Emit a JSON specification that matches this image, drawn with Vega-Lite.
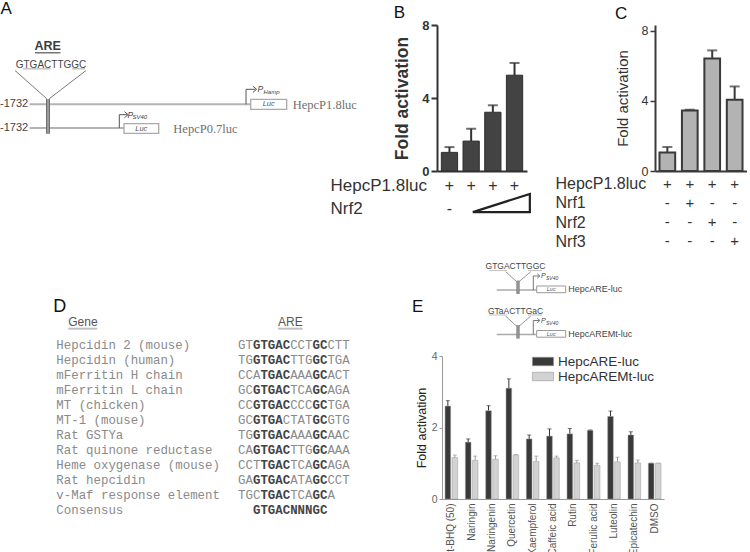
{
  "$schema": "https://vega.github.io/schema/vega-lite/v6.json",
  "background": "white",
  "padding": {"left": 0, "top": 0, "right": 0, "bottom": 0},
  "config": {
    "view": {"stroke": null},
    "font": "Liberation Sans",
    "axis": {"grid": false},
    "title": {"anchor": "start", "frame": "bounds", "fontSize": 17, "fontWeight": "normal", "color": "#111"}
  },
  "resolve": {"scale": {"color": "independent"}, "legend": {"color": "independent"}},
  "datasets": {
    "genes": [
      {"order": 0, "gene": "Hepcidin 2 (mouse)"},
      {"order": 1, "gene": "Hepcidin (human)"},
      {"order": 2, "gene": "mFerritin H chain"},
      {"order": 3, "gene": "mFerritin L chain"},
      {"order": 4, "gene": "MT (chicken)"},
      {"order": 5, "gene": "MT-1 (mouse)"},
      {"order": 6, "gene": "Rat GSTYa"},
      {"order": 7, "gene": "Rat quinone reductase"},
      {"order": 8, "gene": "Heme oxygenase (mouse)"},
      {"order": 9, "gene": "Rat hepcidin"},
      {"order": 10, "gene": "v-Maf response element"},
      {"order": 11, "gene": "Consensus"}
    ],
    "segments": [
      {"order": 0, "pos": 0, "bases": "GT", "conserved": false},
      {"order": 0, "pos": 2, "bases": "GTGAC", "conserved": true},
      {"order": 0, "pos": 7, "bases": "CCT", "conserved": false},
      {"order": 0, "pos": 10, "bases": "GC", "conserved": true},
      {"order": 0, "pos": 12, "bases": "CTT", "conserved": false},
      {"order": 1, "pos": 0, "bases": "TG", "conserved": false},
      {"order": 1, "pos": 2, "bases": "GTGAC", "conserved": true},
      {"order": 1, "pos": 7, "bases": "TTG", "conserved": false},
      {"order": 1, "pos": 10, "bases": "GC", "conserved": true},
      {"order": 1, "pos": 12, "bases": "TGA", "conserved": false},
      {"order": 2, "pos": 0, "bases": "CCA", "conserved": false},
      {"order": 2, "pos": 3, "bases": "TGAC", "conserved": true},
      {"order": 2, "pos": 7, "bases": "AAA", "conserved": false},
      {"order": 2, "pos": 10, "bases": "GC", "conserved": true},
      {"order": 2, "pos": 12, "bases": "ACT", "conserved": false},
      {"order": 3, "pos": 0, "bases": "GC", "conserved": false},
      {"order": 3, "pos": 2, "bases": "GTGAC", "conserved": true},
      {"order": 3, "pos": 7, "bases": "TCA", "conserved": false},
      {"order": 3, "pos": 10, "bases": "GC", "conserved": true},
      {"order": 3, "pos": 12, "bases": "AGA", "conserved": false},
      {"order": 4, "pos": 0, "bases": "CC", "conserved": false},
      {"order": 4, "pos": 2, "bases": "GTGAC", "conserved": true},
      {"order": 4, "pos": 7, "bases": "CCC", "conserved": false},
      {"order": 4, "pos": 10, "bases": "GC", "conserved": true},
      {"order": 4, "pos": 12, "bases": "TGA", "conserved": false},
      {"order": 5, "pos": 0, "bases": "GC", "conserved": false},
      {"order": 5, "pos": 2, "bases": "GTGA", "conserved": true},
      {"order": 5, "pos": 6, "bases": "CTAT", "conserved": false},
      {"order": 5, "pos": 10, "bases": "GC", "conserved": true},
      {"order": 5, "pos": 12, "bases": "GTG", "conserved": false},
      {"order": 6, "pos": 0, "bases": "TG", "conserved": false},
      {"order": 6, "pos": 2, "bases": "GTGAC", "conserved": true},
      {"order": 6, "pos": 7, "bases": "AAA", "conserved": false},
      {"order": 6, "pos": 10, "bases": "GC", "conserved": true},
      {"order": 6, "pos": 12, "bases": "AAC", "conserved": false},
      {"order": 7, "pos": 0, "bases": "CA", "conserved": false},
      {"order": 7, "pos": 2, "bases": "GTGAC", "conserved": true},
      {"order": 7, "pos": 7, "bases": "TTG", "conserved": false},
      {"order": 7, "pos": 10, "bases": "GC", "conserved": true},
      {"order": 7, "pos": 12, "bases": "AAA", "conserved": false},
      {"order": 8, "pos": 0, "bases": "CCT", "conserved": false},
      {"order": 8, "pos": 3, "bases": "TGAC", "conserved": true},
      {"order": 8, "pos": 7, "bases": "TCA", "conserved": false},
      {"order": 8, "pos": 10, "bases": "GC", "conserved": true},
      {"order": 8, "pos": 12, "bases": "AGA", "conserved": false},
      {"order": 9, "pos": 0, "bases": "GA", "conserved": false},
      {"order": 9, "pos": 2, "bases": "GTGAC", "conserved": true},
      {"order": 9, "pos": 7, "bases": "ATA", "conserved": false},
      {"order": 9, "pos": 10, "bases": "GC", "conserved": true},
      {"order": 9, "pos": 12, "bases": "CCT", "conserved": false},
      {"order": 10, "pos": 0, "bases": "TGC", "conserved": false},
      {"order": 10, "pos": 3, "bases": "TGAC", "conserved": true},
      {"order": 10, "pos": 7, "bases": "TCA", "conserved": false},
      {"order": 10, "pos": 10, "bases": "GC", "conserved": true},
      {"order": 10, "pos": 12, "bases": "A", "conserved": false},
      {"order": 11, "pos": 2, "bases": "GTGACNNNGC", "conserved": true}
    ]
  },
  "vconcat": [
    {
      "hconcat": [
        {
          "hconcat": [
            {
              "width": 300,
              "height": 110,
              "data": {"values": [
                {"kind": "line", "part": "connector", "x": 15, "y": 68.5, "x2": 46.7, "y2": 96.7},
                {"kind": "line", "part": "connector", "x": 86, "y": 68.5, "x2": 49.3, "y2": 96.7},
                {"kind": "line", "part": "backbone", "x": 29.5, "y": 102.3, "x2": 250.7, "y2": 102.3},
                {"kind": "line", "part": "backbone", "x": 29.5, "y": 126, "x2": 124, "y2": 126},
                {"kind": "line", "part": "promoter", "x": 246, "y": 102.3, "x2": 246, "y2": 87.3},
                {"kind": "line", "part": "promoter", "x": 246, "y": 87.3, "x2": 255.5, "y2": 87.3},
                {"kind": "line", "part": "promoter", "x": 119.3, "y": 126, "x2": 119.3, "y2": 112.7},
                {"kind": "line", "part": "promoter", "x": 119.3, "y": 112.7, "x2": 127, "y2": 112.7},
                {"kind": "line", "part": "motif", "x": 23, "y": 66.8, "x2": 50.5, "y2": 66.8},
                {"kind": "line", "part": "motif", "x": 72, "y": 66.8, "x2": 85, "y2": 66.8},
                {"kind": "line", "part": "heading", "x": 35, "y": 50.8, "x2": 60.5, "y2": 50.8},
                {"kind": "line", "part": "site", "x": 48, "y": 97, "x2": 48, "y2": 131.7},
                {"kind": "box", "x": 250.7, "x2": 286.7, "y": 97.3, "y2": 107.3},
                {"kind": "box", "x": 124, "x2": 158.7, "y": 121.7, "y2": 131.3},
                {"kind": "arrow", "x": 256, "y": 87.3},
                {"kind": "arrow", "x": 127.5, "y": 112.7},
                {"kind": "panel", "label": "A", "x": 0.5, "y": 7},
                {"kind": "heading", "label": "ARE", "x": 47.7, "y": 44},
                {"kind": "motif", "label": "GTGACTTGGC", "x": 51, "y": 62.5},
                {"kind": "coord", "label": "-1732", "x": 0, "y": 102.3},
                {"kind": "coord", "label": "-1732", "x": 0, "y": 126},
                {"kind": "pname", "label": "P", "x": 257.5, "y": 87},
                {"kind": "pname", "label": "P", "x": 127.5, "y": 112.5},
                {"kind": "psub", "label": "Hamp", "x": 263.5, "y": 90},
                {"kind": "psub", "label": "SV40", "x": 132.5, "y": 114.8},
                {"kind": "luc", "label": "Luc", "x": 268.7, "y": 102.3},
                {"kind": "luc", "label": "Luc", "x": 141.3, "y": 126.5},
                {"kind": "construct", "label": "HepcP1.8luc", "x": 292.7, "y": 102.5},
                {"kind": "construct", "label": "HepcP0.7luc", "x": 173.3, "y": 127}
              ]},
              "encoding": {
                "x": {"field": "x", "type": "quantitative", "scale": {"domain": [0, 300], "nice": false, "zero": false}, "axis": null},
                "y": {"field": "y", "type": "quantitative", "scale": {"domain": [23, 133], "reverse": true, "nice": false, "zero": false}, "axis": null}
              },
              "layer": [
                {"transform": [{"filter": "datum.part === 'connector'"}], "mark": {"type": "rule", "color": "#7a7a7a", "strokeWidth": 1}, "encoding": {"x2": {"field": "x2"}, "y2": {"field": "y2"}}},
                {"transform": [{"filter": "datum.part === 'backbone'"}], "mark": {"type": "rule", "color": "#b4b4b4", "strokeWidth": 2}, "encoding": {"x2": {"field": "x2"}, "y2": {"field": "y2"}}},
                {"transform": [{"filter": "datum.part === 'promoter'"}], "mark": {"type": "rule", "color": "#555", "strokeWidth": 1}, "encoding": {"x2": {"field": "x2"}, "y2": {"field": "y2"}}},
                {"transform": [{"filter": "datum.part === 'motif'"}], "mark": {"type": "rule", "color": "#c4c4c4", "strokeWidth": 1.5}, "encoding": {"x2": {"field": "x2"}, "y2": {"field": "y2"}}},
                {"transform": [{"filter": "datum.part === 'heading'"}], "mark": {"type": "rule", "color": "#555", "strokeWidth": 1.2}, "encoding": {"x2": {"field": "x2"}, "y2": {"field": "y2"}}},
                {"transform": [{"filter": "datum.part === 'site'"}], "mark": {"type": "rule", "color": "#707070", "strokeWidth": 4}, "encoding": {"x2": {"field": "x2"}, "y2": {"field": "y2"}}},
                {"transform": [{"filter": "datum.part === 'site'"}], "mark": {"type": "rule", "color": "#9a9a9a", "strokeWidth": 2}, "encoding": {"x2": {"field": "x2"}, "y2": {"field": "y2"}}},
                {"transform": [{"filter": "datum.kind === 'box'"}], "mark": {"type": "rect", "fill": "white", "stroke": "#aaa", "strokeWidth": 1.3}, "encoding": {"x2": {"field": "x2"}, "y2": {"field": "y2"}}},
                {"transform": [{"filter": "datum.kind === 'arrow'"}], "mark": {"type": "point", "shape": "M-1,-1L0.2,0L-1,1", "filled": false, "color": "#555", "strokeWidth": 1, "size": 36, "opacity": 1}},
                {"transform": [{"filter": "datum.kind === 'panel'"}], "mark": {"type": "text", "align": "left", "baseline": "middle", "fontSize": 17, "color": "#111"}, "encoding": {"text": {"field": "label"}}},
                {"transform": [{"filter": "datum.kind === 'heading'"}], "mark": {"type": "text", "align": "center", "baseline": "middle", "fontSize": 12.5, "fontWeight": "bold", "color": "#3c3c3c"}, "encoding": {"text": {"field": "label"}}},
                {"transform": [{"filter": "datum.kind === 'motif'"}], "mark": {"type": "text", "align": "center", "baseline": "middle", "fontSize": 10, "color": "#444"}, "encoding": {"text": {"field": "label"}}},
                {"transform": [{"filter": "datum.kind === 'coord'"}], "mark": {"type": "text", "align": "left", "baseline": "middle", "fontSize": 11, "color": "#444"}, "encoding": {"text": {"field": "label"}}},
                {"transform": [{"filter": "datum.kind === 'pname'"}], "mark": {"type": "text", "align": "left", "baseline": "middle", "fontSize": 8.5, "fontStyle": "italic", "color": "#444"}, "encoding": {"text": {"field": "label"}}},
                {"transform": [{"filter": "datum.kind === 'psub'"}], "mark": {"type": "text", "align": "left", "baseline": "middle", "fontSize": 6, "fontStyle": "italic", "color": "#444"}, "encoding": {"text": {"field": "label"}}},
                {"transform": [{"filter": "datum.kind === 'luc'"}], "mark": {"type": "text", "align": "center", "baseline": "middle", "fontSize": 7.5, "fontStyle": "italic", "color": "#555"}, "encoding": {"text": {"field": "label"}}},
                {"transform": [{"filter": "datum.kind === 'construct'"}], "mark": {"type": "text", "align": "left", "baseline": "middle", "font": "Liberation Serif", "fontSize": 12.5, "color": "#707070"}, "encoding": {"text": {"field": "label"}}}
              ]
            },
            {
              "bounds": "flush",
              "vconcat": [
                {
                  "title": {"text": "B", "offset": -3},
                  "width": 90,
                  "height": 146,
                  "data": {"values": [
                    {"cond": "1", "fold": 1.02, "err": 1.31},
                    {"cond": "2", "fold": 1.64, "err": 2.32},
                    {"cond": "3", "fold": 3.22, "err": 3.6},
                    {"cond": "4", "fold": 5.25, "err": 5.92}
                  ]},
                  "encoding": {
                    "x": {"field": "cond", "type": "nominal", "scale": {"type": "band", "paddingInner": 0.25, "paddingOuter": 0.2}, "axis": {"labels": false, "ticks": false, "title": null, "domainColor": "#333", "domainWidth": 2}}
                  },
                  "layer": [
                    {"mark": {"type": "rule", "color": "#333", "strokeWidth": 2}, "encoding": {"y": {"field": "fold", "type": "quantitative", "title": "Fold activation"}, "y2": {"field": "err"}}},
                    {"mark": {"type": "tick", "color": "#333", "thickness": 2, "size": 10}, "encoding": {"y": {"field": "err", "type": "quantitative", "title": "Fold activation"}}},
                    {"mark": {"type": "bar", "fill": "#434343", "stroke": "#2e2e2e", "strokeWidth": 1}, "encoding": {"y": {"field": "fold", "type": "quantitative", "title": "Fold activation", "scale": {"domain": [0, 8], "nice": false}, "axis": {"values": [0, 2, 4, 6, 8], "domainColor": "#333", "domainWidth": 2, "tickColor": "#333", "tickWidth": 2, "tickSize": 6, "labelFontSize": 13, "labelFontWeight": "bold", "labelColor": "#333", "labelPadding": 2, "titleFontSize": 17.5, "titleFontWeight": "bold", "titleColor": "#333", "titlePadding": 10}}}}
                  ]
                },
                {
                  "width": 90,
                  "height": 46,
                  "data": {"values": [
                    {"cond": "1", "row": 0, "sign": "+"},
                    {"cond": "2", "row": 0, "sign": "+"},
                    {"cond": "3", "row": 0, "sign": "+"},
                    {"cond": "4", "row": 0, "sign": "+"},
                    {"cond": "1", "row": 1, "sign": "-"}
                  ]},
                  "encoding": {
                    "x": {"field": "cond", "type": "nominal", "scale": {"type": "band", "domain": ["1", "2", "3", "4"], "paddingInner": 0.25, "paddingOuter": 0.2}, "axis": null},
                    "y": {"field": "row", "type": "quantitative", "scale": {"domain": [-0.652, 1.348], "reverse": true, "nice": false, "zero": false}, "axis": {"title": null, "domain": false, "ticks": false, "tickSize": 0, "values": [0, 1], "labelExpr": "datum.value === 0 ? 'HepcP1.8luc' : 'Nrf2'", "labelAlign": "left", "labelBaseline": "middle", "labelPadding": 107, "labelFontSize": 17, "labelColor": "#333"}}
                  },
                  "layer": [
                    {"mark": {"type": "text", "fontSize": 16, "color": "#333"}, "encoding": {"text": {"field": "sign"}}},
                    {"data": {"values": [{"cond": "3", "row": 0.74}]}, "mark": {"type": "point", "shape": "M-1,0.32L1,-0.32L1,0.32Z", "size": 3249, "filled": false, "color": "#222", "strokeWidth": 2.2, "opacity": 1, "xOffset": 8.5}}
                  ]
                }
              ],
              "spacing": 0
            }
          ],
          "spacing": -27
        },
        {
          "bounds": "flush",
          "vconcat": [
            {
              "title": {"text": "C", "offset": 2},
              "width": 92,
              "height": 146,
              "data": {"values": [
                {"cond": "1", "fold": 1.06, "err": 1.37},
                {"cond": "2", "fold": 3.46, "err": 3.5},
                {"cond": "3", "fold": 6.43, "err": 6.89},
                {"cond": "4", "fold": 4.07, "err": 4.83}
              ]},
              "encoding": {
                "x": {"field": "cond", "type": "nominal", "scale": {"type": "band", "paddingInner": 0.3, "paddingOuter": 0.2}, "axis": {"labels": false, "ticks": false, "title": null, "domainColor": "#3a3a3a", "domainWidth": 2}}
              },
              "layer": [
                {"mark": {"type": "rule", "color": "#3a3a3a", "strokeWidth": 2}, "encoding": {"y": {"field": "fold", "type": "quantitative", "title": "Fold activation"}, "y2": {"field": "err"}}},
                {"mark": {"type": "tick", "color": "#3a3a3a", "thickness": 2, "size": 10}, "encoding": {"y": {"field": "err", "type": "quantitative", "title": "Fold activation"}}},
                {"mark": {"type": "bar", "fill": "#b3b3b3", "stroke": "#3a3a3a", "strokeWidth": 2}, "encoding": {"y": {"field": "fold", "type": "quantitative", "title": "Fold activation", "scale": {"domain": [0, 8.34], "nice": false}, "axis": {"values": [0, 2, 4, 6, 8], "domainColor": "#3a3a3a", "domainWidth": 2, "tickColor": "#3a3a3a", "tickWidth": 1.5, "tickSize": 5, "labelFontSize": 12.5, "labelColor": "#333", "labelPadding": 2, "titleFontSize": 15, "titleFontWeight": "normal", "titleColor": "#333", "titlePadding": 11}}}}
              ]
            },
            {
              "width": 92,
              "height": 77,
              "data": {"values": [
                {"cond": "1", "row": 0, "sign": "+"},
                {"cond": "2", "row": 0, "sign": "+"},
                {"cond": "3", "row": 0, "sign": "+"},
                {"cond": "4", "row": 0, "sign": "+"},
                {"cond": "1", "row": 1, "sign": "-"},
                {"cond": "2", "row": 1, "sign": "+"},
                {"cond": "3", "row": 1, "sign": "-"},
                {"cond": "4", "row": 1, "sign": "-"},
                {"cond": "1", "row": 2, "sign": "-"},
                {"cond": "2", "row": 2, "sign": "-"},
                {"cond": "3", "row": 2, "sign": "+"},
                {"cond": "4", "row": 2, "sign": "-"},
                {"cond": "1", "row": 3, "sign": "-"},
                {"cond": "2", "row": 3, "sign": "-"},
                {"cond": "3", "row": 3, "sign": "-"},
                {"cond": "4", "row": 3, "sign": "+"}
              ]},
              "encoding": {
                "x": {"field": "cond", "type": "nominal", "scale": {"type": "band", "domain": ["1", "2", "3", "4"], "paddingInner": 0.3, "paddingOuter": 0.2}, "axis": null},
                "y": {"field": "row", "type": "quantitative", "scale": {"domain": [-0.648, 3.342], "reverse": true, "nice": false, "zero": false}, "axis": {"title": null, "domain": false, "ticks": false, "tickSize": 0, "values": [0, 1, 2, 3], "labelExpr": "['HepcP1.8luc', 'Nrf1', 'Nrf2', 'Nrf3'][datum.value]", "labelAlign": "left", "labelBaseline": "middle", "labelPadding": 100, "labelFontSize": 16, "labelColor": "#333"}},
                "text": {"field": "sign"}
              },
              "mark": {"type": "text", "fontSize": 15, "color": "#333"}
            }
          ],
          "spacing": 0
        }
      ],
      "spacing": 20
    },
    {
      "resolve": {"scale": {"color": "independent"}, "legend": {"color": "independent"}},
      "hconcat": [
        {
          "width": 298,
          "height": 262,
          "layer": [
            {
              "data": {"values": [{"t": "D", "col": -24.83, "line": -2.5}]},
              "mark": {"type": "text", "align": "left", "baseline": "middle", "fontSize": 18, "color": "#111"},
              "encoding": {
                "x": {"field": "col", "type": "quantitative", "scale": {"domain": [-32, 8.05], "nice": false, "zero": false}, "axis": null},
                "y": {"field": "line", "type": "quantitative", "scale": {"domain": [-6, 11.5], "reverse": true, "nice": false, "zero": false}, "axis": null},
                "text": {"field": "t"}
              }
            },
            {
              "data": {"values": [{"t": "Gene", "col": -22.83, "line": -1.5}, {"t": "ARE", "col": 5.37, "line": -1.5}]},
              "mark": {"type": "text", "align": "left", "baseline": "middle", "fontSize": 12, "color": "#555"},
              "encoding": {
                "x": {"field": "col", "type": "quantitative", "scale": {"domain": [-32, 8.05], "nice": false, "zero": false}, "axis": null},
                "y": {"field": "line", "type": "quantitative", "scale": {"domain": [-6, 11.5], "reverse": true, "nice": false, "zero": false}, "axis": null},
                "text": {"field": "t"}
              }
            },
            {
              "data": {"values": [{"col": -22.83, "col2": -18.93, "line": -1.08}, {"col": 5.37, "col2": 8.67, "line": -1.08}]},
              "mark": {"type": "rule", "color": "#c0c0c0", "strokeWidth": 2},
              "encoding": {
                "x": {"field": "col", "type": "quantitative", "scale": {"domain": [-32, 8.05], "nice": false, "zero": false}, "axis": null},
                "x2": {"field": "col2"},
                "y": {"field": "line", "type": "quantitative", "scale": {"domain": [-6, 11.5], "reverse": true, "nice": false, "zero": false}, "axis": null}
              }
            },
            {
              "data": {"name": "genes"},
              "mark": {"type": "text", "align": "left", "baseline": "middle", "font": "Liberation Mono", "fontSize": 12.4, "color": "#8a8a8a"},
              "encoding": {
                "x": {"datum": -24.43, "type": "quantitative", "scale": {"domain": [-32, 8.05], "nice": false, "zero": false}, "axis": null},
                "y": {"field": "order", "type": "quantitative", "scale": {"domain": [-6, 11.5], "reverse": true, "nice": false, "zero": false}, "axis": null},
                "text": {"field": "gene"}
              }
            },
            {
              "data": {"name": "segments"},
              "transform": [{"filter": "!datum.conserved"}],
              "mark": {"type": "text", "align": "left", "baseline": "middle", "font": "Liberation Mono", "fontSize": 12.4, "color": "#8a8a8a"},
              "encoding": {
                "x": {"field": "pos", "type": "quantitative", "scale": {"domain": [-32, 8.05], "nice": false, "zero": false}, "axis": null},
                "y": {"field": "order", "type": "quantitative", "scale": {"domain": [-6, 11.5], "reverse": true, "nice": false, "zero": false}, "axis": null},
                "text": {"field": "bases"}
              }
            },
            {
              "data": {"name": "segments"},
              "transform": [{"filter": "datum.conserved"}],
              "mark": {"type": "text", "align": "left", "baseline": "middle", "font": "Liberation Mono", "fontSize": 12.4, "fontWeight": "bold", "color": "#444"},
              "encoding": {
                "x": {"field": "pos", "type": "quantitative", "scale": {"domain": [-32, 8.05], "nice": false, "zero": false}, "axis": null},
                "y": {"field": "order", "type": "quantitative", "scale": {"domain": [-6, 11.5], "reverse": true, "nice": false, "zero": false}, "axis": null},
                "text": {"field": "bases"}
              }
            }
          ]
        },
        {
          "resolve": {"scale": {"color": "independent"}, "legend": {"color": "independent"}},
          "vconcat": [
            {
              "width": 222,
              "height": 85,
              "data": {"values": [
                {"kind": "line", "part": "connector", "x": 63.7, "y": 16.7, "x2": 74.7, "y2": 26.7},
                {"kind": "line", "part": "connector", "x": 88.7, "y": 16.7, "x2": 77, "y2": 26.7},
                {"kind": "line", "part": "connector", "x": 63.7, "y": 61.2, "x2": 74.7, "y2": 71.2},
                {"kind": "line", "part": "connector", "x": 88.7, "y": 61.2, "x2": 77, "y2": 71.2},
                {"kind": "line", "part": "backbone", "x": 54.7, "y": 35, "x2": 94.7, "y2": 35},
                {"kind": "line", "part": "backbone", "x": 54.7, "y": 79.5, "x2": 94.7, "y2": 79.5},
                {"kind": "line", "part": "promoter", "x": 91.3, "y": 35, "x2": 91.3, "y2": 21},
                {"kind": "line", "part": "promoter", "x": 91.3, "y": 21, "x2": 97, "y2": 21},
                {"kind": "line", "part": "promoter", "x": 91.3, "y": 79.5, "x2": 91.3, "y2": 65.5},
                {"kind": "line", "part": "promoter", "x": 91.3, "y": 65.5, "x2": 97, "y2": 65.5},
                {"kind": "line", "part": "motif", "x": 47, "y": 15.5, "x2": 65, "y2": 15.5},
                {"kind": "line", "part": "motif", "x": 86, "y": 15.5, "x2": 100, "y2": 15.5},
                {"kind": "line", "part": "motif", "x": 47, "y": 60, "x2": 65, "y2": 60},
                {"kind": "line", "part": "motif", "x": 86, "y": 60, "x2": 100, "y2": 60},
                {"kind": "line", "part": "site", "x": 76, "y": 25.7, "x2": 76, "y2": 39},
                {"kind": "line", "part": "site", "x": 76, "y": 70.2, "x2": 76, "y2": 83.5},
                {"kind": "box", "x": 94.7, "x2": 123.7, "y": 31, "y2": 37.7},
                {"kind": "box", "x": 94.7, "x2": 123.7, "y": 75.5, "y2": 82.2},
                {"kind": "arrow", "x": 97.5, "y": 21},
                {"kind": "arrow", "x": 97.5, "y": 65.5},
                {"kind": "panel", "label": "E", "x": -30, "y": 52},
                {"kind": "motif", "label": "GTGACTTGGC", "x": 73.5, "y": 11},
                {"kind": "motif", "label": "GTaACTTGaC", "x": 73.5, "y": 55.5},
                {"kind": "pname", "label": "P", "x": 99, "y": 21},
                {"kind": "pname", "label": "P", "x": 99, "y": 65.5},
                {"kind": "psub", "label": "SV40", "x": 104, "y": 23},
                {"kind": "psub", "label": "SV40", "x": 104, "y": 67.5},
                {"kind": "luc", "label": "Luc", "x": 109.2, "y": 34.4},
                {"kind": "luc", "label": "Luc", "x": 109.2, "y": 78.9},
                {"kind": "construct", "label": "HepcARE-luc", "x": 126.3, "y": 34},
                {"kind": "construct", "label": "HepcAREMt-luc", "x": 126.3, "y": 78.5}
              ]},
              "encoding": {
                "x": {"field": "x", "type": "quantitative", "scale": {"domain": [0, 222], "nice": false, "zero": false}, "axis": null},
                "y": {"field": "y", "type": "quantitative", "scale": {"domain": [0, 85], "reverse": true, "nice": false, "zero": false}, "axis": null}
              },
              "layer": [
                {"transform": [{"filter": "datum.part === 'connector'"}], "mark": {"type": "rule", "color": "#7a7a7a", "strokeWidth": 0.8}, "encoding": {"x2": {"field": "x2"}, "y2": {"field": "y2"}}},
                {"transform": [{"filter": "datum.part === 'backbone'"}], "mark": {"type": "rule", "color": "#aaa", "strokeWidth": 1.5}, "encoding": {"x2": {"field": "x2"}, "y2": {"field": "y2"}}},
                {"transform": [{"filter": "datum.part === 'promoter'"}], "mark": {"type": "rule", "color": "#555", "strokeWidth": 0.8}, "encoding": {"x2": {"field": "x2"}, "y2": {"field": "y2"}}},
                {"transform": [{"filter": "datum.part === 'motif'"}], "mark": {"type": "rule", "color": "#c8c8c8", "strokeWidth": 1.2}, "encoding": {"x2": {"field": "x2"}, "y2": {"field": "y2"}}},
                {"transform": [{"filter": "datum.part === 'site'"}], "mark": {"type": "rule", "color": "#777", "strokeWidth": 3.2}, "encoding": {"x2": {"field": "x2"}, "y2": {"field": "y2"}}},
                {"transform": [{"filter": "datum.part === 'site'"}], "mark": {"type": "rule", "color": "#a0a0a0", "strokeWidth": 1.4}, "encoding": {"x2": {"field": "x2"}, "y2": {"field": "y2"}}},
                {"transform": [{"filter": "datum.kind === 'box'"}], "mark": {"type": "rect", "fill": "white", "stroke": "#999", "strokeWidth": 1}, "encoding": {"x2": {"field": "x2"}, "y2": {"field": "y2"}}},
                {"transform": [{"filter": "datum.kind === 'arrow'"}], "mark": {"type": "point", "shape": "M-1,-1L0.2,0L-1,1", "filled": false, "color": "#555", "strokeWidth": 0.8, "size": 20, "opacity": 1}},
                {"transform": [{"filter": "datum.kind === 'panel'"}], "mark": {"type": "text", "align": "left", "baseline": "middle", "fontSize": 17, "color": "#111"}, "encoding": {"text": {"field": "label"}}},
                {"transform": [{"filter": "datum.kind === 'motif'"}], "mark": {"type": "text", "align": "center", "baseline": "middle", "fontSize": 8.5, "color": "#444"}, "encoding": {"text": {"field": "label"}}},
                {"transform": [{"filter": "datum.kind === 'pname'"}], "mark": {"type": "text", "align": "left", "baseline": "middle", "fontSize": 7, "fontStyle": "italic", "color": "#444"}, "encoding": {"text": {"field": "label"}}},
                {"transform": [{"filter": "datum.kind === 'psub'"}], "mark": {"type": "text", "align": "left", "baseline": "middle", "fontSize": 5, "fontStyle": "italic", "color": "#444"}, "encoding": {"text": {"field": "label"}}},
                {"transform": [{"filter": "datum.kind === 'luc'"}], "mark": {"type": "text", "align": "center", "baseline": "middle", "fontSize": 5.5, "fontStyle": "italic", "color": "#555"}, "encoding": {"text": {"field": "label"}}},
                {"transform": [{"filter": "datum.kind === 'construct'"}], "mark": {"type": "text", "align": "left", "baseline": "middle", "fontSize": 9, "color": "#444"}, "encoding": {"text": {"field": "label"}}}
              ]
            },
            {
              "width": 222,
              "height": 143,
              "data": {"values": [
                {"compound": "t-BHQ (50)", "construct": "HepcARE-luc", "fold": 2.6, "err": 2.75},
                {"compound": "t-BHQ (50)", "construct": "HepcAREMt-luc", "fold": 1.16, "err": 1.23},
                {"compound": "Naringin", "construct": "HepcARE-luc", "fold": 1.59, "err": 1.68},
                {"compound": "Naringin", "construct": "HepcAREMt-luc", "fold": 1.08, "err": 1.2},
                {"compound": "Naringenin", "construct": "HepcARE-luc", "fold": 2.47, "err": 2.61},
                {"compound": "Naringenin", "construct": "HepcAREMt-luc", "fold": 1.11, "err": 1.21},
                {"compound": "Quercetin", "construct": "HepcARE-luc", "fold": 3.1, "err": 3.36},
                {"compound": "Quercetin", "construct": "HepcAREMt-luc", "fold": 1.23, "err": 1.24},
                {"compound": "Kaempferol", "construct": "HepcARE-luc", "fold": 1.68, "err": 1.79},
                {"compound": "Kaempferol", "construct": "HepcAREMt-luc", "fold": 1.05, "err": 1.2},
                {"compound": "Caffeic acid", "construct": "HepcARE-luc", "fold": 1.76, "err": 1.96},
                {"compound": "Caffeic acid", "construct": "HepcAREMt-luc", "fold": 1.15, "err": 1.2},
                {"compound": "Rutin", "construct": "HepcARE-luc", "fold": 1.82, "err": 1.97},
                {"compound": "Rutin", "construct": "HepcAREMt-luc", "fold": 1.01, "err": 1.08},
                {"compound": "Ferulic acid", "construct": "HepcARE-luc", "fold": 1.92, "err": 1.93},
                {"compound": "Ferulic acid", "construct": "HepcAREMt-luc", "fold": 0.94, "err": 1.0},
                {"compound": "Luteolin", "construct": "HepcARE-luc", "fold": 2.31, "err": 2.46},
                {"compound": "Luteolin", "construct": "HepcAREMt-luc", "fold": 1.04, "err": 1.17},
                {"compound": "Epicatechin", "construct": "HepcARE-luc", "fold": 1.79, "err": 1.88},
                {"compound": "Epicatechin", "construct": "HepcAREMt-luc", "fold": 1.01, "err": 1.09},
                {"compound": "DMSO", "construct": "HepcARE-luc", "fold": 1.0, "err": 1.0},
                {"compound": "DMSO", "construct": "HepcAREMt-luc", "fold": 1.0, "err": 1.0}
              ]},
              "encoding": {
                "x": {"field": "compound", "type": "nominal", "sort": ["t-BHQ (50)", "Naringin", "Naringenin", "Quercetin", "Kaempferol", "Caffeic acid", "Rutin", "Ferulic acid", "Luteolin", "Epicatechin", "DMSO"], "scale": {"paddingInner": 0.38, "paddingOuter": 0.15}, "axis": {"title": null, "labelAngle": -90, "labelFontSize": 10, "labelColor": "#555", "ticks": false, "domainColor": "#999", "labelPadding": 4}},
                "xOffset": {"field": "construct", "type": "nominal", "sort": ["HepcARE-luc", "HepcAREMt-luc"], "scale": {"paddingInner": 0.2}}
              },
              "layer": [
                {"transform": [{"filter": "datum.construct === 'HepcARE-luc'"}], "mark": {"type": "rule", "strokeWidth": 1, "color": "#333"}, "encoding": {"y": {"field": "fold", "type": "quantitative", "title": "Fold activation"}, "y2": {"field": "err"}}},
                {"transform": [{"filter": "datum.construct === 'HepcARE-luc'"}], "mark": {"type": "tick", "thickness": 1, "size": 4, "color": "#333"}, "encoding": {"y": {"field": "err", "type": "quantitative", "title": "Fold activation"}}},
                {"transform": [{"filter": "datum.construct === 'HepcAREMt-luc'"}], "mark": {"type": "rule", "strokeWidth": 1, "color": "#999"}, "encoding": {"y": {"field": "fold", "type": "quantitative", "title": "Fold activation"}, "y2": {"field": "err"}}},
                {"transform": [{"filter": "datum.construct === 'HepcAREMt-luc'"}], "mark": {"type": "tick", "thickness": 1, "size": 4, "color": "#999"}, "encoding": {"y": {"field": "err", "type": "quantitative", "title": "Fold activation"}}},
                {"mark": {"type": "bar", "stroke": "#9a9a9a", "strokeWidth": 0.5}, "encoding": {
                  "y": {"field": "fold", "type": "quantitative", "title": "Fold activation", "scale": {"domain": [0, 4], "nice": false}, "axis": {"values": [0, 1, 2, 3, 4], "domainColor": "#999", "tickColor": "#999", "tickSize": 3, "labelColor": "#666", "labelFontSize": 10.5, "labelPadding": 2, "titleFontSize": 12.5, "titleColor": "#222", "titleFontWeight": "normal", "titlePadding": 3}},
                  "color": {"field": "construct", "type": "nominal", "scale": {"domain": ["HepcARE-luc", "HepcAREMt-luc"], "range": ["#3a3a3a", "#d2d2d2"]}, "legend": {"orient": "none", "legendX": 93.5, "legendY": -2, "title": null, "symbolType": "M-1.5,-0.6H1.5V0.6H-1.5Z", "symbolSize": 200, "symbolStrokeColor": "#999", "symbolStrokeWidth": 0.6, "symbolOpacity": 1, "labelFontSize": 13.5, "labelColor": "#333", "labelOffset": 7.4, "rowPadding": 1}}
                }}
              ]
            }
          ],
          "spacing": 10
        }
      ],
      "spacing": 62
    }
  ],
  "spacing": 5
}
